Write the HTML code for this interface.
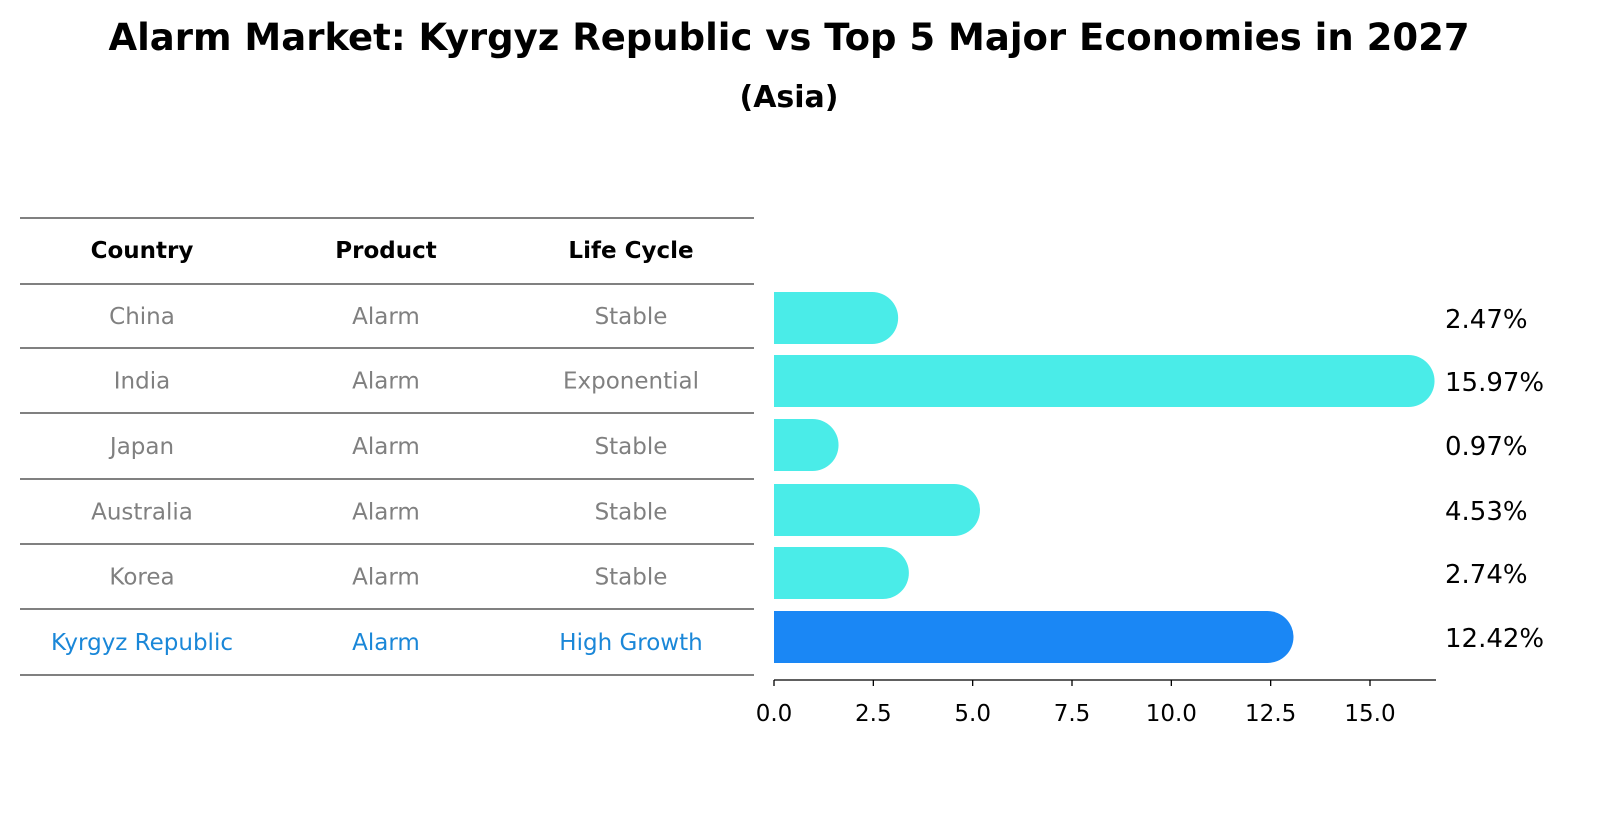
<!DOCTYPE html>
<html><head><meta charset="utf-8"><style>
body{margin:0;background:#fff;font-family:"Liberation Sans","DejaVu Sans",sans-serif;}
svg text{font-family:"DejaVu Sans","Liberation Sans",sans-serif;}
</style></head><body>
<svg id="c" width="1604" height="823" xmlns="http://www.w3.org/2000/svg">
<text x="789" y="50" text-anchor="middle" font-size="37" font-weight="bold">Alarm Market: Kyrgyz Republic vs Top 5 Major Economies in 2027</text>
<text x="789" y="107" text-anchor="middle" font-size="30" font-weight="bold">(Asia)</text>
<g id="table"></g>
<g id="bars"></g>
</svg>
<script>
const countries=["China","India","Japan","Australia","Korea","Kyrgyz Republic"];
const products=["Alarm","Alarm","Alarm","Alarm","Alarm","Alarm"];
const lifecycles=["Stable","Exponential","Stable","Stable","Stable","High Growth"];
const values=[2.47,15.97,0.97,4.53,2.74,12.42];
const ticks=[0,2.5,5,7.5,10,12.5,15];
const NS="http://www.w3.org/2000/svg";
function mk(t,a,p){const e=document.createElementNS(NS,t);for(const k in a)e.setAttribute(k,a[k]);p.appendChild(e);return e;}
const tb=document.getElementById('table'),bg=document.getElementById('bars');
const x=v=>774+v*(596/15);
const lineYs=[218,284,348,413,479,544,609,675];
const rowY=i=>(lineYs[i+1]+lineYs[i+2])/2;
lineYs.forEach(y=>{const l=mk('line',{x1:20,x2:754,y1:y,y2:y,stroke:'#000','stroke-width':1},tb);

});
const colX=[142,386,631];
["Country","Product","Life Cycle"].forEach((h,j)=>{const t=mk('text',{x:colX[j],y:258,'text-anchor':'middle','font-size':23,'font-weight':'bold'},tb);t.textContent=h;

});
countries.forEach((c,i)=>{const last=i===countries.length-1;const col=last?'#1a87d8':'#808080';
[c,products[i],lifecycles[i]].forEach((s,j)=>{const t=mk('text',{x:colX[j],y:rowY(i)+8,'text-anchor':'middle','font-size':23,fill:col},tb);t.textContent=s;

});
const cy=[318,381,445,510,573,637][i];const h=52,r=26;const fill=last?'#1a87f5':'#4aece8';
const xe=x(values[i]);
const b=mk('path',{d:`M774 ${cy-h/2} H${xe} A${r} ${r} 0 0 1 ${xe} ${cy+h/2} H774 Z`,fill:fill},bg);


const lt=mk('text',{x:1445,y:cy+10,'font-size':26},bg);lt.textContent=values[i].toFixed(2)+'%';

});
const ax=mk('line',{x1:774,x2:1436,y1:680,y2:680,stroke:'#000','stroke-width':1.3},bg);


ticks.forEach(v=>{const tl=mk('line',{x1:x(v),x2:x(v),y1:680,y2:686,stroke:'#000','stroke-width':1.3},bg);


const t=mk('text',{x:x(v),y:721,'text-anchor':'middle','font-size':23},bg);t.textContent=v.toFixed(1);

});
</script>
</body></html>
